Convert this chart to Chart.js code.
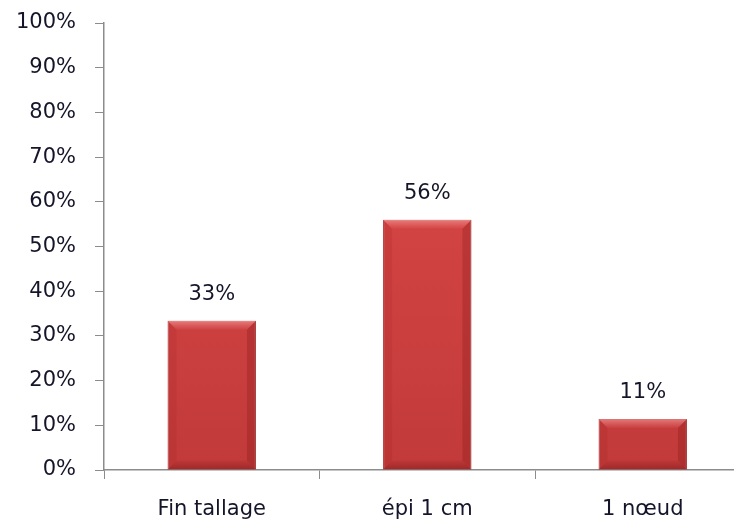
<!DOCTYPE html>
<html>
<head>
<meta charset="utf-8">
<script src="https://cdn.jsdelivr.net/npm/chart.js@4/dist/chart.umd.min.js"></script>
<style>
  html, body { margin: 0; padding: 0; background: #fff; overflow: hidden; width: 734px; height: 519px; }
  #wrap { position: absolute; left: 0; top: 0; width: 760px; height: 540px; }
</style>
</head>
<body>
<div id="wrap"><canvas id="chart"></canvas></div>
<script>
// Stage labels and share of plots (%)
const stages = ['Fin tallage', 'épi 1 cm', '1 nœud'];
const shares = [33.4, 56.0, 11.4];
const yTicks = [0, 10, 20, 30, 40, 50, 60, 70, 80, 90, 100];

const FONT = '"DejaVu Sans", Verdana, sans-serif';
const TEXT = '#15152a';

// Plot frame in page pixels
const AXIS_X = 104;
const TOP_PAD = 23;
const BASE_Y = 470;

// Draw value labels above bars + a soft bevel on each bar
const barDecor = {
    id: 'barDecor',
    afterDatasetsDraw(chart) {
        const ctx = chart.ctx;
        const meta = chart.getDatasetMeta(0);
        meta.data.forEach((bar, i) => {
            const left = bar.x - bar.width / 2;
            const right = bar.x + bar.width / 2;
            const top = bar.y;
            const bottom = bar.base;
            const b = 9;
            ctx.save();
            // top bevel
            const tg = ctx.createLinearGradient(0, top, 0, top + b);
            tg.addColorStop(0, 'rgba(255,175,175,0.55)');
            tg.addColorStop(1, 'rgba(255,150,150,0.05)');
            ctx.fillStyle = tg;
            ctx.beginPath();
            ctx.moveTo(left, top); ctx.lineTo(right, top);
            ctx.lineTo(right - b, top + b); ctx.lineTo(left + b, top + b);
            ctx.closePath(); ctx.fill();
            // left bevel
            ctx.fillStyle = 'rgba(120,0,0,0.08)';
            ctx.beginPath();
            ctx.moveTo(left, top); ctx.lineTo(left + b, top + b);
            ctx.lineTo(left + b, bottom - b); ctx.lineTo(left, bottom);
            ctx.closePath(); ctx.fill();
            // right bevel
            ctx.fillStyle = 'rgba(90,0,0,0.18)';
            ctx.beginPath();
            ctx.moveTo(right, top); ctx.lineTo(right - b, top + b);
            ctx.lineTo(right - b, bottom - b); ctx.lineTo(right, bottom);
            ctx.closePath(); ctx.fill();
            // bottom bevel
            const bg = ctx.createLinearGradient(0, bottom - b, 0, bottom);
            bg.addColorStop(0, 'rgba(80,0,0,0.05)');
            bg.addColorStop(1, 'rgba(80,0,0,0.3)');
            ctx.fillStyle = bg;
            ctx.beginPath();
            ctx.moveTo(left, bottom); ctx.lineTo(right, bottom);
            ctx.lineTo(right - b, bottom - b); ctx.lineTo(left + b, bottom - b);
            ctx.closePath(); ctx.fill();
            ctx.restore();

            // value label
            ctx.save();
            ctx.fillStyle = TEXT;
            ctx.font = '21px ' + FONT;
            ctx.textAlign = 'center';
            ctx.textBaseline = 'middle';
            ctx.fillText(Math.round(shares[i]) + '%', bar.x, top - 26);
            ctx.restore();
        });
    }
};

const canvas = document.getElementById('chart');
const W = 760, H = 540;

new Chart(canvas, {
    type: 'bar',
    data: {
        labels: stages,
        datasets: [{
            data: shares,
            backgroundColor: function (context) {
                const area = context.chart.chartArea;
                if (!area) return '#cf3f3f';
                const g = context.chart.ctx.createLinearGradient(0, area.top, 0, area.bottom);
                g.addColorStop(0, '#df4a4a');
                g.addColorStop(1, '#c23a3a');
                return g;
            },
            borderColor: '#b23434',
            borderWidth: 1,
            barPercentage: 0.41,
            categoryPercentage: 1.0
        }]
    },
    options: {
        responsive: true,
        maintainAspectRatio: false,
        animation: false,
        layout: {
            padding: { left: 0, top: TOP_PAD, right: W - (AXIS_X + 3 * 215.5), bottom: 0 }
        },
        plugins: {
            legend: { display: false },
            tooltip: { enabled: false }
        },
        scales: {
            x: {
                grid: {
                    display: true,
                    drawOnChartArea: false,
                    offset: true,
                    color: '#8c8c8c',
                    tickLength: 9
                },
                border: { color: '#8c8c8c', width: 1.5 },
                ticks: {
                    color: TEXT,
                    font: { family: FONT, size: 21 },
                    padding: 18
                },
                afterFit(scale) {
                    scale.height = H - BASE_Y;
                    scale.paddingLeft = 0;
                    scale.paddingRight = 0;
                }
            },
            y: {
                min: 0,
                max: 100,
                afterBuildTicks(scale) {
                    scale.ticks = yTicks.map(v => ({ value: v }));
                },
                grid: {
                    display: true,
                    drawOnChartArea: false,
                    color: '#8c8c8c',
                    tickLength: 9
                },
                border: { color: '#8c8c8c', width: 1.5 },
                ticks: {
                    color: TEXT,
                    font: { family: FONT, size: 21 },
                    padding: 19,
                    callback: v => v + '%'
                },
                afterFit(scale) {
                    scale.width = AXIS_X;
                    // let layout padding alone decide the top of the plot
                    scale.paddingTop = 0;
                    scale.paddingBottom = 0;
                }
            }
        }
    },
    plugins: [barDecor]
});
</script>
</body>
</html>
